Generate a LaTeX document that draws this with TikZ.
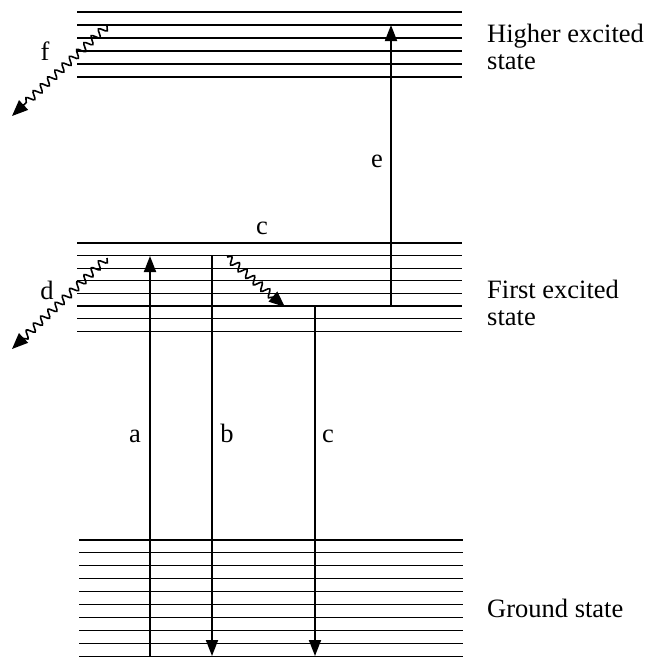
\documentclass[tikz,border=0pt]{standalone}
\usepackage{fontspec}
\setmainfont{Liberation Serif}
\usetikzlibrary{arrows.meta,decorations.pathmorphing}

\begin{document}
\begin{tikzpicture}[
  x=1pt,y=-1pt,
  font=\fontsize{26.5}{27}\selectfont,
  level/.style={line width=1.1pt},
  trans/.style={-{Triangle[length=16pt,width=12pt]},line width=1.8pt},
  wavy/.style={-{Triangle[length=16pt,width=13pt]},line width=1.6pt,decorate,
    decoration={snake,amplitude=3.8pt,segment length=10pt,post length=15pt}},
  lbl/.style={anchor=base,inner sep=0pt},
  statelbl/.style={anchor=north west,align=left,inner sep=0pt}
]
\useasboundingbox (0,0) rectangle (649,657);
% energy levels
\foreach \i in {0,...,5} \draw[level] (77,{12+\i*13}) -- (462,{12+\i*13});
\foreach \i in {0,...,7} \draw[level] (77,{243+\i*12.6}) -- (462,{243+\i*12.6});
\foreach \i in {0,...,9} \draw[level] (79,{540+\i*12.9}) -- (463,{540+\i*12.9});
% end points of the transitions
\coordinate (a-lo) at (150,656);
\coordinate (a-hi) at (150,256);
\coordinate (b-hi) at (212,256);
\coordinate (b-lo) at (212,656);
\coordinate (ic-hi) at (227,257);
\coordinate (ic-lo) at (285,307);
\coordinate (c-hi) at (315,307);
\coordinate (c-lo) at (315,656);
\coordinate (e-lo) at (391,306);
\coordinate (e-hi) at (391,25);
\coordinate (f-hi) at (107,26);
\coordinate (f-lo) at (12,116);
\coordinate (d-hi) at (107,258);
\coordinate (d-lo) at (12,349);
\draw[trans] (a-lo) -- (a-hi);
\draw[trans] (b-hi) -- (b-lo);
\draw[trans] (c-hi) -- (c-lo);
\draw[trans] (e-lo) -- (e-hi);
\draw[wavy] (ic-hi) -- (ic-lo);
\draw[wavy] (f-hi) -- (f-lo);
\draw[wavy] (d-hi) -- (d-lo);
% labels
\node[lbl] (la) at (135,442) {a};
\node[lbl] (lb) at (227,442) {b};
\node[lbl] (lc) at (328,442) {c};
\node[lbl] (lic) at (262,234) {c};
\node[lbl] (le) at (377,167) {e};
\node[lbl] (lf) at (45,60) {f};
\node[lbl] (ld) at (47,299) {d};
\node[statelbl] (higher) at (487,24) {Higher excited\\state};
\node[statelbl] (first) at (487,280) {First excited\\state};
\node[lbl,anchor=base west] (ground) at (487,617) {Ground state};
\end{tikzpicture}
\end{document}
